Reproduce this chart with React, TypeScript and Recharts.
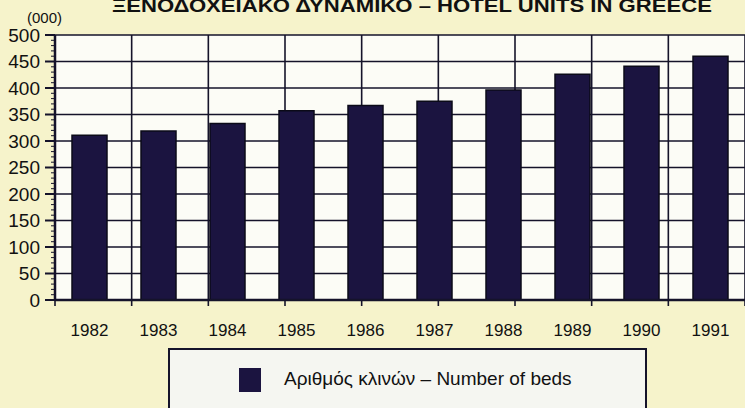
import React from "react";
import { BarChart, Bar, XAxis, YAxis, CartesianGrid, Legend } from "recharts";

const years = ["1982", "1983", "1984", "1985", "1986", "1987", "1988", "1989", "1990", "1991"];
const beds = [311, 319, 333, 357, 367, 375, 396, 426, 441, 460];
const majorTicks = [0, 50, 100, 150, 200, 250, 300, 350, 400, 450, 500];
const minorTicks = Array.from({ length: 51 }, (_, i) => i * 10);
const boundaryTicks = [0, 1, 2, 3, 4, 5, 6, 7, 8, 9, 10];

const data = years.map((y, i) => ({ year: y, beds: beds[i] }));

const FONT = "'Liberation Sans', Arial, Helvetica, sans-serif";
const INK = "#15132a";

const YTick = (props: any) => {
  const { x, y, payload } = props;
  const v = payload.value as number;
  const major = v % 50 === 0;
  return (
    <g>
      <line x1={x - (major ? 10 : 4)} x2={x} y1={y} y2={y} stroke={INK} strokeWidth={major ? 2 : 1} />
      {major && (
        <text x={x - 15} y={y} dy="0.36em" textAnchor="end" fontSize={19} fontFamily={FONT} fill="#111">
          {v}
        </text>
      )}
    </g>
  );
};

const EmptyTick = () => <g />;

const LegendBox = () => (
  <div
    style={{
      width: 479,
      height: 70,
      border: `2px solid ${INK}`,
      background: "#f5f6f1",
      boxSizing: "border-box",
      position: "relative",
      fontFamily: FONT,
    }}
  >
    <div style={{ position: "absolute", left: 69, top: 18, width: 22, height: 24, background: "#1b1440" }} />
    <div style={{ position: "absolute", left: 114, top: 18, fontSize: 19, color: "#111", whiteSpace: "nowrap" }}>
      Αριθμός κλινών – Number of beds
    </div>
  </div>
);

export default function App() {
  return (
    <div style={{ position: "absolute", left: 0, top: 0, width: 745, height: 408, background: "#f6f3cb", overflow: "hidden" }}>
      <svg style={{ position: "absolute", left: 0, top: 0 }} width={745} height={40}>
        <text x={112} y={12} fontSize={18} fontWeight="bold" fontFamily={FONT} fill="#111" textLength={600} lengthAdjust="spacingAndGlyphs">
          ΞΕΝΟΔΟΧΕΙΑΚΟ ΔΥΝΑΜΙΚΟ – HOTEL UNITS IN GREECE
        </text>
        <text x={27} y={23} fontSize={15} fontFamily={FONT} fill="#111">(000)</text>
      </svg>
      <BarChart width={745} height={408} data={data} margin={{ top: 35, right: 0, left: 0, bottom: 70 }}>
        <CartesianGrid
          xAxisId="b"
          fill="#fcfcf6"
          stroke={INK}
          strokeWidth={1.6}
          horizontalValues={majorTicks}
          verticalValues={boundaryTicks}
        />
        <XAxis
          xAxisId="b"
          type="number"
          domain={[0, 10]}
          ticks={boundaryTicks}
          interval={0}
          tick={<EmptyTick />}
          tickSize={6}
          height={8}
          axisLine={{ stroke: INK, strokeWidth: 2.5 }}
          tickLine={{ stroke: INK, strokeWidth: 1.6 }}
        />
        <XAxis
          xAxisId="cat"
          dataKey="year"
          axisLine={false}
          tickLine={false}
          tickSize={0}
          tickMargin={16}
          height={30}
          interval={0}
          tick={{ fontSize: 17, fontFamily: FONT, fill: "#111" }}
        />
        <YAxis
          width={55}
          domain={[0, 500]}
          ticks={minorTicks}
          interval={0}
          tickSize={0}
          tickMargin={0}
          tickLine={false}
          tick={<YTick />}
          axisLine={{ stroke: INK, strokeWidth: 2.5 }}
        />
        <Legend
          layout="horizontal"
          verticalAlign="middle"
          content={<LegendBox />}
          wrapperStyle={{ position: "absolute", left: 168, top: 348, width: 479, height: 70 }}
        />
        <Bar
          xAxisId="cat"
          dataKey="beds"
          name="Αριθμός κλινών – Number of beds"
          fill="#1b1440"
          stroke="#0b0a18"
          strokeWidth={1.5}
          barSize={35}
          isAnimationActive={false}
        />
      </BarChart>
    </div>
  );
}
